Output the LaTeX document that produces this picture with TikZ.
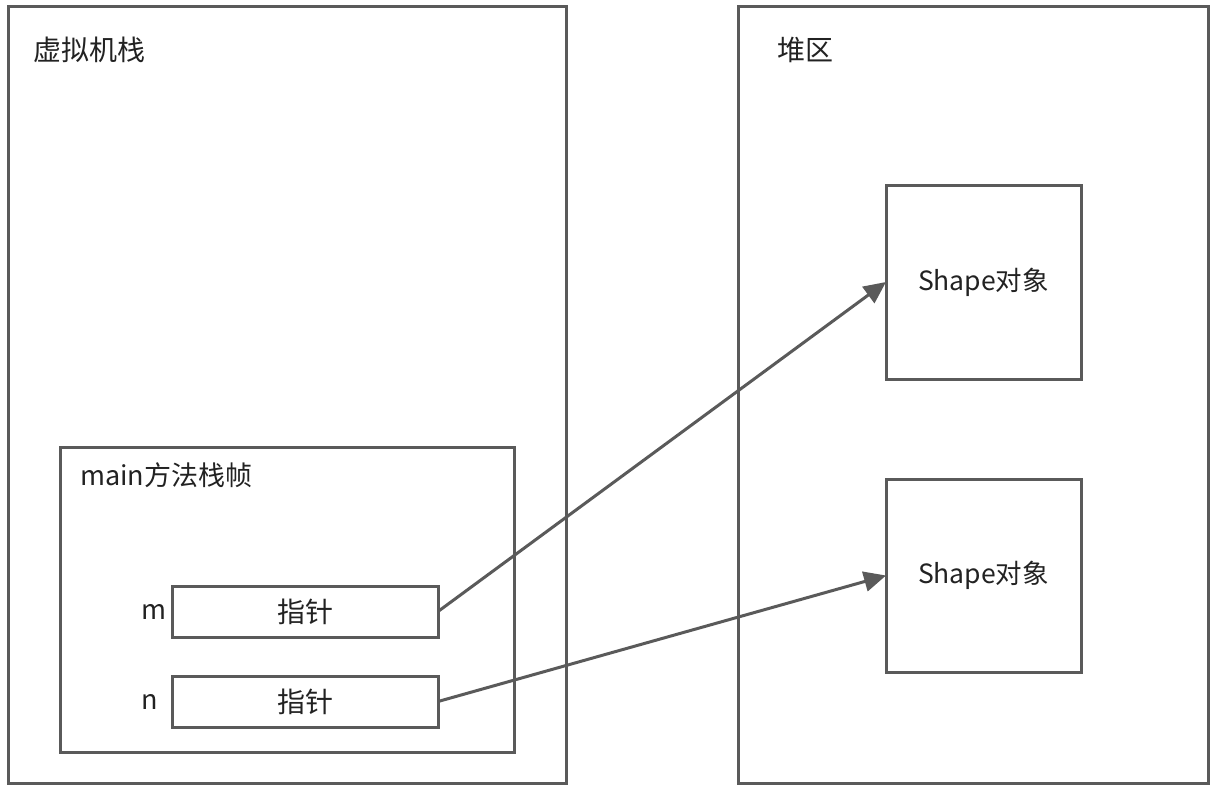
\documentclass[tikz,border=0pt]{standalone}
\usepackage{fontspec}
\setmainfont{Noto Sans CJK SC}
\usetikzlibrary{arrows.meta}
\definecolor{linegray}{HTML}{5A5A5A}
\definecolor{txt}{HTML}{222222}
\begin{document}
\begin{tikzpicture}[x=1pt,y=-1pt,
  boxstyle/.style={draw=linegray,line width=3pt,inner sep=0pt,outer sep=0pt,fill=white,
    font=\fontsize{27}{32}\selectfont,text=txt},
  lbl/.style={inner sep=0pt,font=\fontsize{28}{32}\selectfont,text=txt},
  arr/.style={draw=linegray,line width=3pt,-{Triangle[length=22pt,width=20pt]}}]
\useasboundingbox (0,0) rectangle (1215,790);
% outer boxes
\node[boxstyle,minimum width=558pt,minimum height=777pt] (stack) at (287,394.5) {};
\node[boxstyle,minimum width=470pt,minimum height=777pt] (heap) at (973,394.5) {};
\node[lbl,anchor=west] (stacklbl) at (33,50) {虚拟机栈};
\node[lbl,anchor=west] (heaplbl) at (777,50) {堆区};
% frame
\node[boxstyle,minimum width=454pt,minimum height=305pt] (frame) at (287,599.5) {};
\node[lbl,anchor=west,font=\fontsize{27}{32}\selectfont] (framelbl) at (80,475) {main方法栈帧};
% pointers
\node[boxstyle,minimum width=266pt,minimum height=51pt,font=\fontsize{28}{32}\selectfont] (p1) at (305,611.5) {指针};
\node[boxstyle,minimum width=266pt,minimum height=51pt,font=\fontsize{28}{32}\selectfont] (p2) at (305,701.5) {指针};
\node[lbl,font=\fontsize{27}{32}\selectfont] (mlbl) at (154,612) {m};
\node[lbl,font=\fontsize{27}{32}\selectfont] (nlbl) at (150,702) {n};
% heap objects
\node[boxstyle,minimum width=195pt,minimum height=194pt,font=\fontsize{26.5}{32}\selectfont] (s1) at (983.5,282) {Shape对象};
\node[boxstyle,minimum width=195pt,minimum height=193pt,font=\fontsize{26.5}{32}\selectfont] (s2) at (983.5,575.5) {Shape对象};
% arrows
\draw[arr] (p1.east) -- (s1.west);
\draw[arr] (p2.east) -- (s2.west);
\end{tikzpicture}
\end{document}
